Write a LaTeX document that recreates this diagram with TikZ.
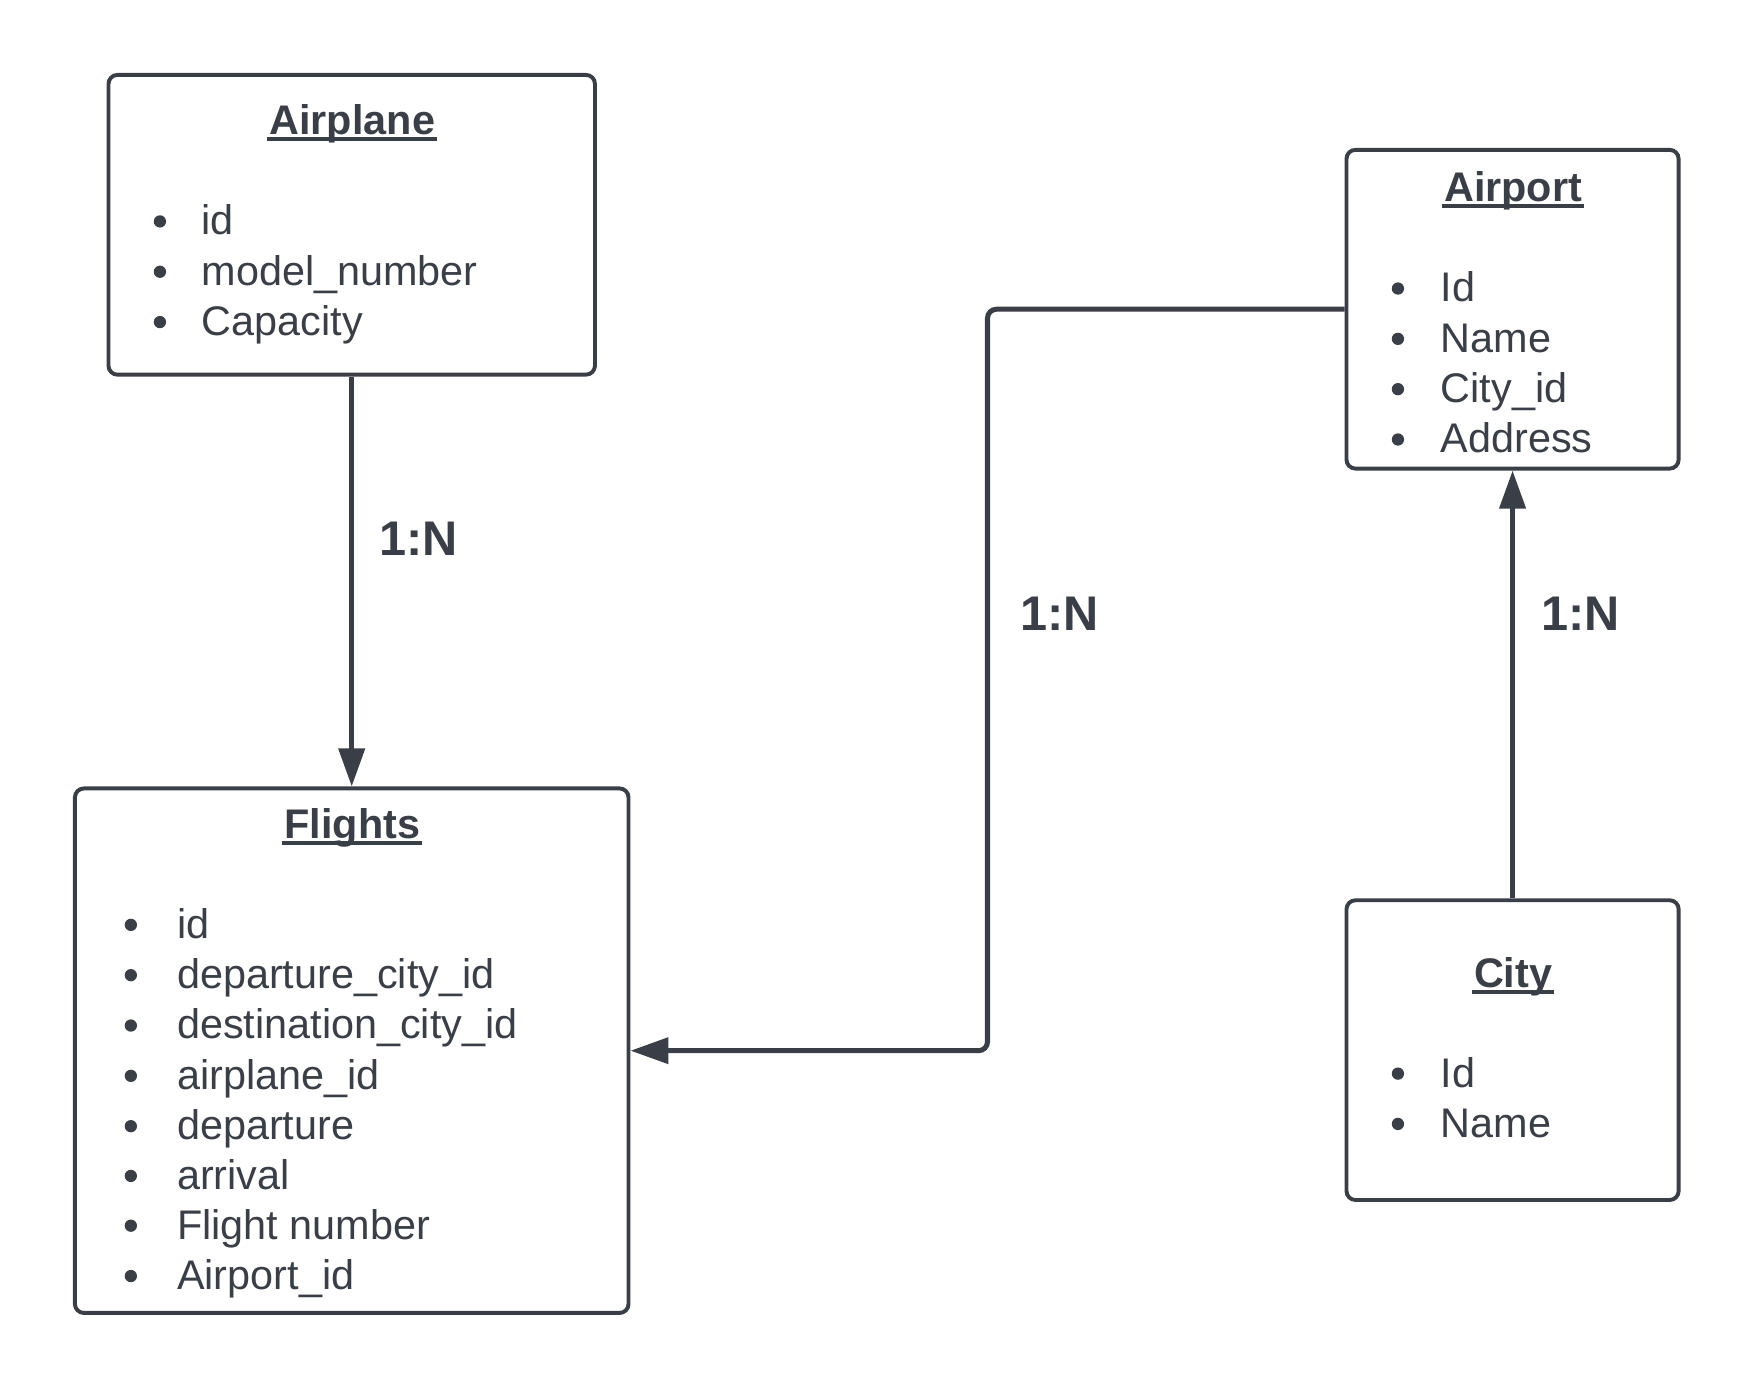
\documentclass[tikz,border=0pt]{standalone}
\usepackage{fontspec}
\setmainfont{Liberation Sans}
\usetikzlibrary{arrows.meta}
\definecolor{ink}{RGB}{58,63,71}
\newcommand{\ulttl}[1]{\setbox0\hbox{#1}\rlap{\kern-1pt\rule[-3pt]{\dimexpr\wd0+2pt\relax}{1.8pt}}\box0}
\begin{document}
\begin{tikzpicture}[x=0.5pt,y=-0.5pt,
  entity/.style={draw=ink, line width=1.75pt, rounded corners=4pt, fill=white, inner sep=0pt, shape=rectangle},
  conn/.style={draw=ink, line width=2.25pt, -{Triangle[length=17pt,width=11.5pt]}},
  item/.style={anchor=base west, inner sep=0pt, text=ink, font=\fontsize{18.5pt}{22pt}\selectfont},
  ttl/.style={anchor=base, inner sep=0pt, text=ink, font=\bfseries\fontsize{18.5pt}{22pt}\selectfont},
  card/.style={anchor=base west, inner sep=0pt, text=ink, font=\bfseries\fontsize{21.75pt}{26pt}\selectfont},
  dot/.style={fill=ink}
]
\useasboundingbox (0,0) rectangle (1567.5,1241.1);

% boxes
\node[entity, minimum width=217.5pt, minimum height=134pt] (airplane) at (314.5,201) {};
\node[entity, minimum width=148.5pt, minimum height=142.5pt] (airport) at (1352.5,276.5) {};
\node[entity, minimum width=247.5pt, minimum height=234.5pt] (flights) at (314.5,939.5) {};
\node[entity, minimum width=148.5pt, minimum height=134pt] (city) at (1352.5,939) {};

% Airplane
\node[ttl] (tAirplane) at (315,120) {\ulttl{Airplane}};
\node[item] (a1) at (180,210) {id};
\node[item] (a2) at (180,255) {model\_number};
\node[item] (a3) at (180,300) {Capacity};
\foreach \y in {210,255,300} \fill[dot] (143,\y-12) circle[radius=2.75pt];

% Airport
\node[ttl] (tAirport) at (1353,180) {\ulttl{Airport}};
\node[item] (p1) at (1288,270) {Id};
\node[item] (p2) at (1288,315) {Name};
\node[item] (p3) at (1288,360) {City\_id};
\node[item] (p4) at (1288,405) {Address};
\foreach \y in {270,315,360,405} \fill[dot] (1250,\y-12) circle[radius=2.75pt];

% Flights
\node[ttl] (tFlights) at (315,750) {\ulttl{Flights}};
\node[item] (f1) at (158,839) {id};
\node[item] (f2) at (158,884) {departure\_city\_id};
\node[item] (f3) at (158,929) {destination\_city\_id};
\node[item] (f4) at (158,974) {airplane\_id};
\node[item] (f5) at (158,1019) {departure};
\node[item] (f6) at (158,1063.5) {arrival};
\node[item] (f7) at (158,1108) {Flight number};
\node[item] (f8) at (158,1153) {Airport\_id};
\foreach \y in {839,884,929,974,1019,1063.5,1108,1153} \fill[dot] (117,\y-12) circle[radius=2.75pt];

% City
\node[ttl] (tCity) at (1353,883) {\ulttl{City}};
\node[item] (c1) at (1288,972) {Id};
\node[item] (c2) at (1288,1017) {Name};
\foreach \y in {972,1017} \fill[dot] (1250,\y-12) circle[radius=2.75pt];

% connectors
\coordinate (elbow) at (883,600);
\draw[conn] (airplane.south) -- (flights.north);
\draw[conn, rounded corners=4pt] (airport.west) -| (elbow) |- (flights.east);
\draw[conn] (city.north) -- (airport.south);

% labels
\node[card] (l1) at (339,497) {1:N};
\node[card] (l2) at (912,564) {1:N};
\node[card] (l3) at (1378,564) {1:N};
\end{tikzpicture}
\end{document}
